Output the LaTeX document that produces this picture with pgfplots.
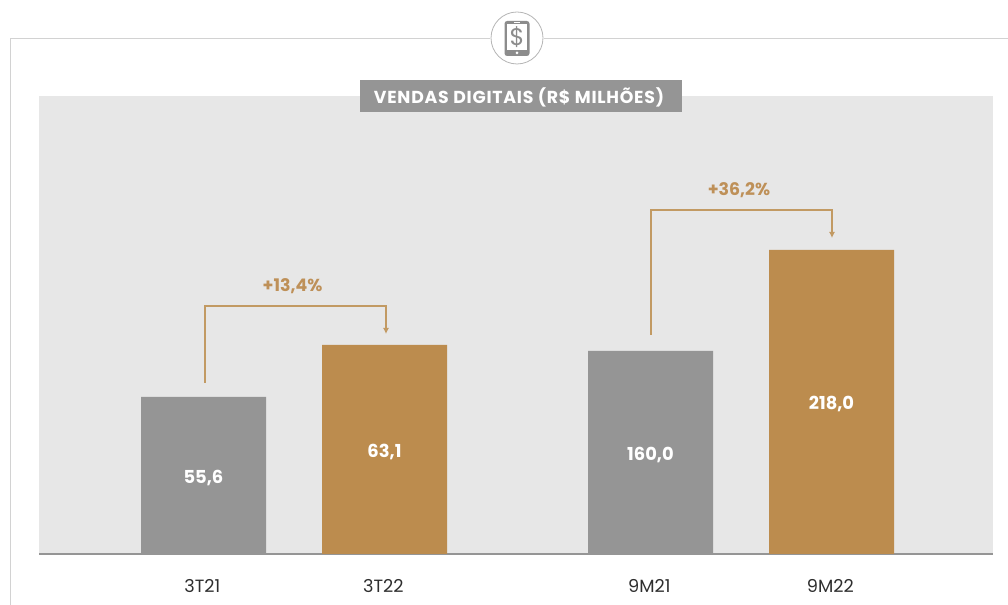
\documentclass[border=0pt]{standalone}
\usepackage{pgfplots}
\usepackage{pgfplotstable}
\usepackage{fontspec}
\setmainfont{Poppins}
\pgfplotsset{compat=1.18}
\usetikzlibrary{arrows.meta}
\definecolor{bargray}{HTML}{959595}
\definecolor{bargold}{HTML}{BC8C4E}
\definecolor{panel}{HTML}{E7E7E7}
\definecolor{framec}{HTML}{D2D2D2}
\definecolor{txt}{HTML}{2E2E2E}
\definecolor{linkc}{HTML}{C29A63}
\definecolor{linktxt}{HTML}{BE9058}
\definecolor{iconc}{HTML}{8C8C8C}
% x = pixel centre of bar, h = bar height as drawn (px), label = printed value
\pgfplotstableread{
x h label
203.5 157 55,6
650.5 203 160,0
}\graytable
\pgfplotstableread{
x h label
384.5 209 63,1
831.5 304 218,0
}\goldtable
\pgfplotsset{barlabels/.style={
  ybar, bar width=93.75pt, bar shift=0pt, draw=none,
  nodes near coords,
  point meta=explicit symbolic,
  visualization depends on={\thisrow{h}*0.375+1.7 \as \halfh},
  every node near coord/.append style={anchor=center,yshift=-\halfh pt,
    font=\bfseries\fontsize{13.4pt}{15pt}\selectfont,text=white},
}}
\begin{document}
\begin{tikzpicture}
\path[use as bounding box] (0,0) rectangle (756pt,453.75pt);
\begin{scope}[x=0.75pt,y=-0.75pt,yshift=453.75pt]
\draw[framec,line width=0.7pt] (10,605) -- (10,38) -- (490,38);
\draw[framec,line width=0.7pt] (544,38) -- (1008,38);
\end{scope}
\begin{axis}[
  at={(29.25pt,38.25pt)}, anchor=south west,
  scale only axis,
  width=715.5pt, height=343.5pt,
  xmin=39, xmax=993, ymin=0, ymax=458,
  axis background/.style={fill=panel},
  axis x line*=bottom, axis y line=none,
  x axis line style={draw=bargray,line width=1pt,-},
  ytick=\empty,
  xtick={203.5,384.5,650.5,831.5},
  xticklabels={3T21,3T22,9M21,9M22},
  major tick length=0pt,
  x tick label style={font=\fontsize{13.3pt}{15pt}\selectfont,text=txt,anchor=base,yshift=-29pt,xshift=-0.9pt},
  clip=false,
]
\addplot[barlabels,fill=bargray] table[x=x,y=h,meta=label]{\graytable};
\addplot[barlabels,fill=bargold] table[x=x,y=h,meta=label]{\goldtable};
\addplot[sharp plot,no marks,draw=linkc,line width=0.85pt,-{Latex[length=4.5pt,width=4.5pt]}]
  coordinates {(205,171) (205,248) (386,248) (386,220)};
\addplot[sharp plot,no marks,draw=linkc,line width=0.85pt,-{Latex[length=4.5pt,width=4.5pt]}]
  coordinates {(651,219) (651,344) (832,344) (832,316)};
\node[font=\bfseries\fontsize{13pt}{15pt}\selectfont,text=linktxt] at (axis cs:292.5,268) {+13,4\%};
\node[font=\bfseries\fontsize{13pt}{15pt}\selectfont,text=linktxt] at (axis cs:739,364) {+36,2\%};
\end{axis}
\begin{scope}[x=0.75pt,y=-0.75pt,yshift=453.75pt]
\fill[bargray] (360,80) rectangle (682,112);
\node[text=white,font=\bfseries\fontsize{13pt}{15pt}\selectfont\addfontfeature{LetterSpace=4.4}] at (519,97) {VENDAS DIGITAIS (R\$ MILHÕES)};
\draw[bargray!70,line width=0.6pt,fill=white] (517,38) circle (26);
\fill[iconc,rounded corners=2pt] (504.5,21) rectangle (529.5,56);
\fill[white] (507,24) rectangle (527,50);
\fill[white] (517,53) circle (1.5);
\fill[white] (514,22) rectangle (520,23);
\node[text=iconc,font=\fontsize{18pt}{19pt}\selectfont] at (517,37.5) {\$};
\end{scope}
\end{tikzpicture}
\end{document}
